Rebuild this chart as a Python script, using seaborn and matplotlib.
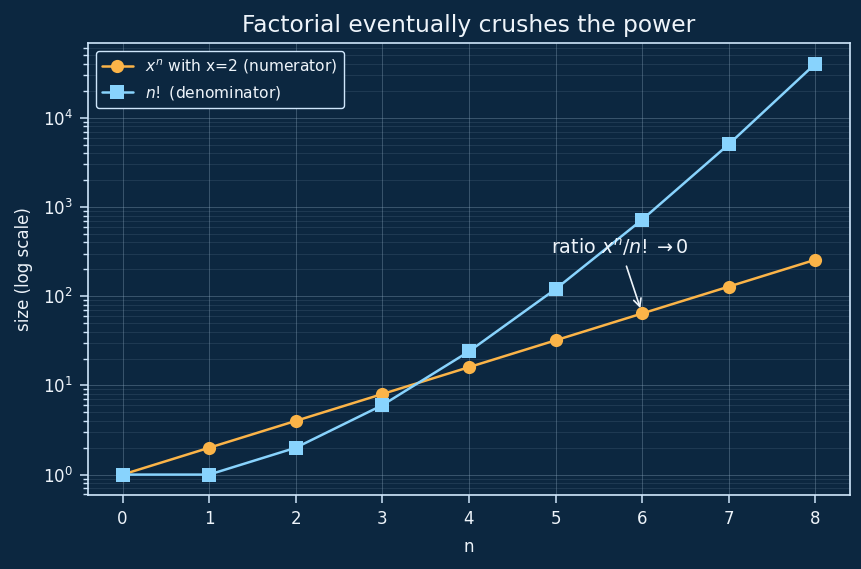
import matplotlib
matplotlib.use("Agg")
import matplotlib.pyplot as plt
import seaborn as sns
import pandas as pd

n_vals = [0, 1, 2, 3, 4, 5, 6, 7, 8]
power_vals = [1, 2, 4, 8, 16, 32, 64, 128, 256]
fact_vals = [1, 1, 2, 6, 24, 120, 720, 5040, 40320]

BG = "#0c2740"
FG = "#eef4fa"
SPINE = "#cfe6fb"
ORANGE = "#fbb448"
BLUE = "#88d3fd"

sns.set_theme(style="dark")
plt.rcParams["font.family"] = ["DejaVu Sans"]

fig, ax = plt.subplots(figsize=(8.62, 5.69), dpi=100)
fig.patch.set_facecolor(BG)
ax.set_facecolor(BG)

df = pd.DataFrame({"n": n_vals, "power": power_vals, "fact": fact_vals})
sns.lineplot(data=df, x="n", y="power", ax=ax, color=ORANGE, marker="o",
             markersize=9.5, markeredgewidth=0, linewidth=1.8,
             label=r"$x^n$ with x=2 (numerator)")
sns.lineplot(data=df, x="n", y="fact", ax=ax, color=BLUE, marker="s",
             markersize=9.5, markeredgewidth=0, linewidth=1.8,
             label=r"$n!$ (denominator)")

ax.set_yscale("log")
ax.set_xticks(n_vals)
ax.set_xlim(-0.4, 8.4)
ax.set_ylim(0.59, 6.85e4)
ax.grid(True, which="major", color="#8fa9c0", alpha=0.35, linewidth=0.7)
ax.grid(True, which="minor", axis="y", color="#8fa9c0", alpha=0.2, linewidth=0.5)
ax.minorticks_on()
ax.tick_params(axis="x", which="minor", bottom=False)
ax.tick_params(colors=FG, which="both", labelsize=12)
ax.tick_params(axis="both", which="major", length=6, width=1.1, pad=5,
               color=SPINE, left=True, bottom=True)
ax.tick_params(axis="y", which="minor", length=3.5, color=SPINE, left=True)
for sp in ax.spines.values():
    sp.set_color(SPINE)
    sp.set_linewidth(1.2)

ax.set_xlabel("n", color=FG, fontsize=12, labelpad=7)
ax.set_ylabel("size (log scale)", color=FG, fontsize=12, labelpad=7)
ax.set_title("Factorial eventually crushes the power", color=FG, fontsize=16.8, pad=8)

ax.annotate(r"ratio $x^n/n!\to 0$", xy=(6, 64), xytext=(4.95, 300),
            color=FG, fontsize=13.8,
            arrowprops=dict(arrowstyle="->", color=FG, lw=1.2, shrinkA=4, shrinkB=4))

leg = ax.legend(loc="upper left", fontsize=11.2, facecolor=BG, edgecolor=SPINE,
                framealpha=1)
for t in leg.get_texts():
    t.set_color(FG)

fig.subplots_adjust(left=0.102, right=0.986, top=0.924, bottom=0.13)
fig.savefig("out.png", dpi=100, facecolor=BG)
